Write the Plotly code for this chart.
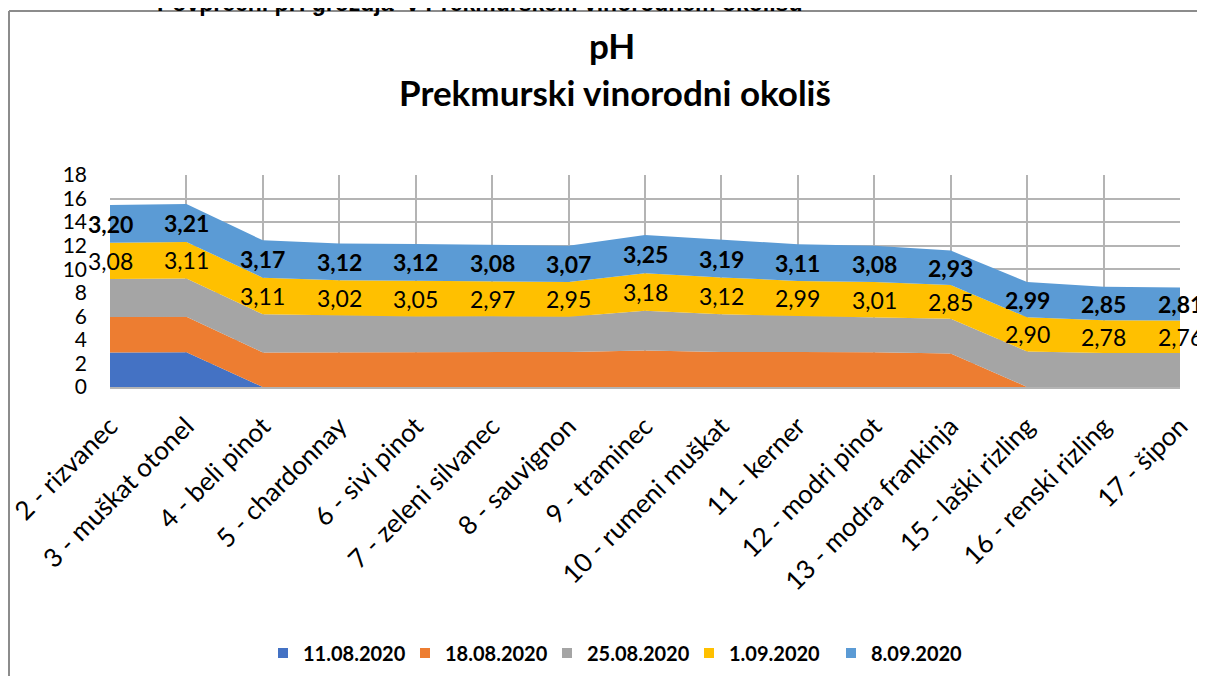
import plotly.graph_objects as go

categories = ["2 - rizvanec", "3 - muškat otonel", "4 - beli pinot", "5 - chardonnay",
              "6 - sivi pinot", "7 - zeleni silvanec", "8 - sauvignon", "9 - traminec",
              "10 - rumeni muškat", "11 - kerner", "12 - modri pinot", "13 - modra frankinja",
              "15 - laški rizling", "16 - renski rizling", "17 - šipon"]

s_1108 = [2.93, 2.95, 0, 0, 0, 0, 0, 0, 0, 0, 0, 0, 0, 0, 0]
s_1808 = [3.02, 3.01, 2.93, 2.95, 2.95, 2.98, 2.97, 3.10, 2.98, 2.97, 2.95, 2.85, 0, 0, 0]
s_2508 = [3.22, 3.25, 3.24, 3.10, 3.03, 3.02, 3.00, 3.38, 3.20, 3.05, 2.95, 2.95, 3.02, 2.88, 2.88]
s_0109 = [3.08, 3.11, 3.11, 3.02, 3.05, 2.97, 2.95, 3.18, 3.12, 2.99, 3.01, 2.85, 2.90, 2.78, 2.76]
s_0809 = [3.20, 3.21, 3.17, 3.12, 3.12, 3.08, 3.07, 3.25, 3.19, 3.11, 3.08, 2.93, 2.99, 2.85, 2.81]

series_names = ["11.08.2020", "18.08.2020", "25.08.2020", "1.09.2020", "8.09.2020"]
series_vals = [s_1108, s_1808, s_2508, s_0109, s_0809]
colors = ["#4472C4", "#ED7D31", "#A5A5A5", "#FFC000", "#5B9BD5"]

# page body margin offset (the figure is drawn 8px right/down in the browser)
OFF = 8
W, H = 1205 - OFF, 684 - 2 * OFF
ML, MT = 110 - OFF, 175 - OFF
MR = W - (1180 - OFF)
MB = H - (387 - OFF)
PW, PH = W - ML - MR, H - MT - MB

def px_x(p):
    return (p - OFF - ML) / PW

def px_y(p):
    return (H - MB - (p - OFF)) / PH

FONT = "Lato"
fig = go.Figure()

for name, vals, col in zip(series_names, series_vals, colors):
    fig.add_trace(go.Scatter(
        x=categories, y=vals, name=name, mode="lines", stackgroup="one",
        line=dict(width=0, color=col), fillcolor=col, showlegend=False,
        hoverinfo="x+y+name"))

for name, col in zip(series_names, colors):
    fig.add_trace(go.Scatter(
        x=[None], y=[None], name="<b>" + name + "</b>", mode="markers",
        marker=dict(symbol="square", size=10, color=col), showlegend=True))

annotations = []
for i, cat in enumerate(categories):
    base = s_1108[i] + s_1808[i] + s_2508[i]
    y4 = base + s_0109[i] / 2
    y5 = base + s_0109[i] + s_0809[i] / 2
    annotations.append(dict(x=cat, y=y4, xref="x", yref="y", showarrow=False,
                            xanchor="center", yanchor="middle",
                            text=f"{s_0109[i]:.2f}".replace(".", ","),
                            font=dict(family=FONT, size=23, color="#000000")))
    annotations.append(dict(x=cat, y=y5, xref="x", yref="y", showarrow=False,
                            xanchor="center", yanchor="middle",
                            text="<b>" + f"{s_0809[i]:.2f}".replace(".", ",") + "</b>",
                            font=dict(family=FONT, size=23, color="#000000")))

annotations.append(dict(x=px_x(612), y=px_y(45), xref="paper", yref="paper", showarrow=False,
                        xanchor="center", yanchor="middle",
                        text="<b>pH</b>", font=dict(family=FONT, size=35, color="#000000")))
annotations.append(dict(x=px_x(615), y=px_y(92), xref="paper", yref="paper", showarrow=False,
                        xanchor="center", yanchor="middle",
                        text="<b>Prekmurski vinorodni okoliš</b>",
                        font=dict(family=FONT, size=35, color="#000000")))
annotations.append(dict(x=px_x(479), y=px_y(18), xref="paper", yref="paper", showarrow=False,
                        xanchor="center", yanchor="bottom",
                        text="<b>Povprečni pH grozdja  v Prekmurskem vinorodnem okolišu</b>",
                        font=dict(family="Liberation Sans", size=23, color="#000000")))

shapes = [
    dict(type="line", xref="paper", yref="paper", x0=px_x(9), x1=px_x(9),
         y0=px_y(11), y1=px_y(690), line=dict(color="#8C8C8C", width=2)),
    dict(type="line", xref="paper", yref="paper", x0=px_x(9), x1=px_x(1210),
         y0=px_y(11), y1=px_y(11), line=dict(color="#8C8C8C", width=2)),
]

fig.update_layout(
    width=W, height=H,
    margin=dict(l=ML, r=MR, t=MT, b=MB, autoexpand=False),
    paper_bgcolor="white", plot_bgcolor="white",
    font=dict(family=FONT, color="#000000"),
    showlegend=True,
    legend=dict(orientation="h", traceorder="normal",
                x=px_x(618), xanchor="center", y=px_y(653), yanchor="middle",
                font=dict(family=FONT, size=20, color="#000000"),
                entrywidth=97, entrywidthmode="pixels", itemwidth=30),
    annotations=annotations,
    shapes=shapes,
)

fig.update_xaxes(type="category", range=[0, len(categories) - 1], automargin=False,
                 showgrid=True, gridcolor="#B4B4B4", gridwidth=1.5,
                 showline=True, linecolor="#B4B4B4", linewidth=1.5,
                 tickangle=-45, tickfont=dict(family=FONT, size=26, color="#000000"),
                 ticks="", ticklabelstandoff=12)
fig.update_yaxes(range=[0, 18], dtick=2, automargin=False,
                 showgrid=True, gridcolor="#B4B4B4", gridwidth=1.5,
                 zeroline=False, showline=False,
                 tickfont=dict(family=FONT, size=21, color="#000000"),
                 ticks="", ticklabelstandoff=22)

fig.write_html("out.html")
